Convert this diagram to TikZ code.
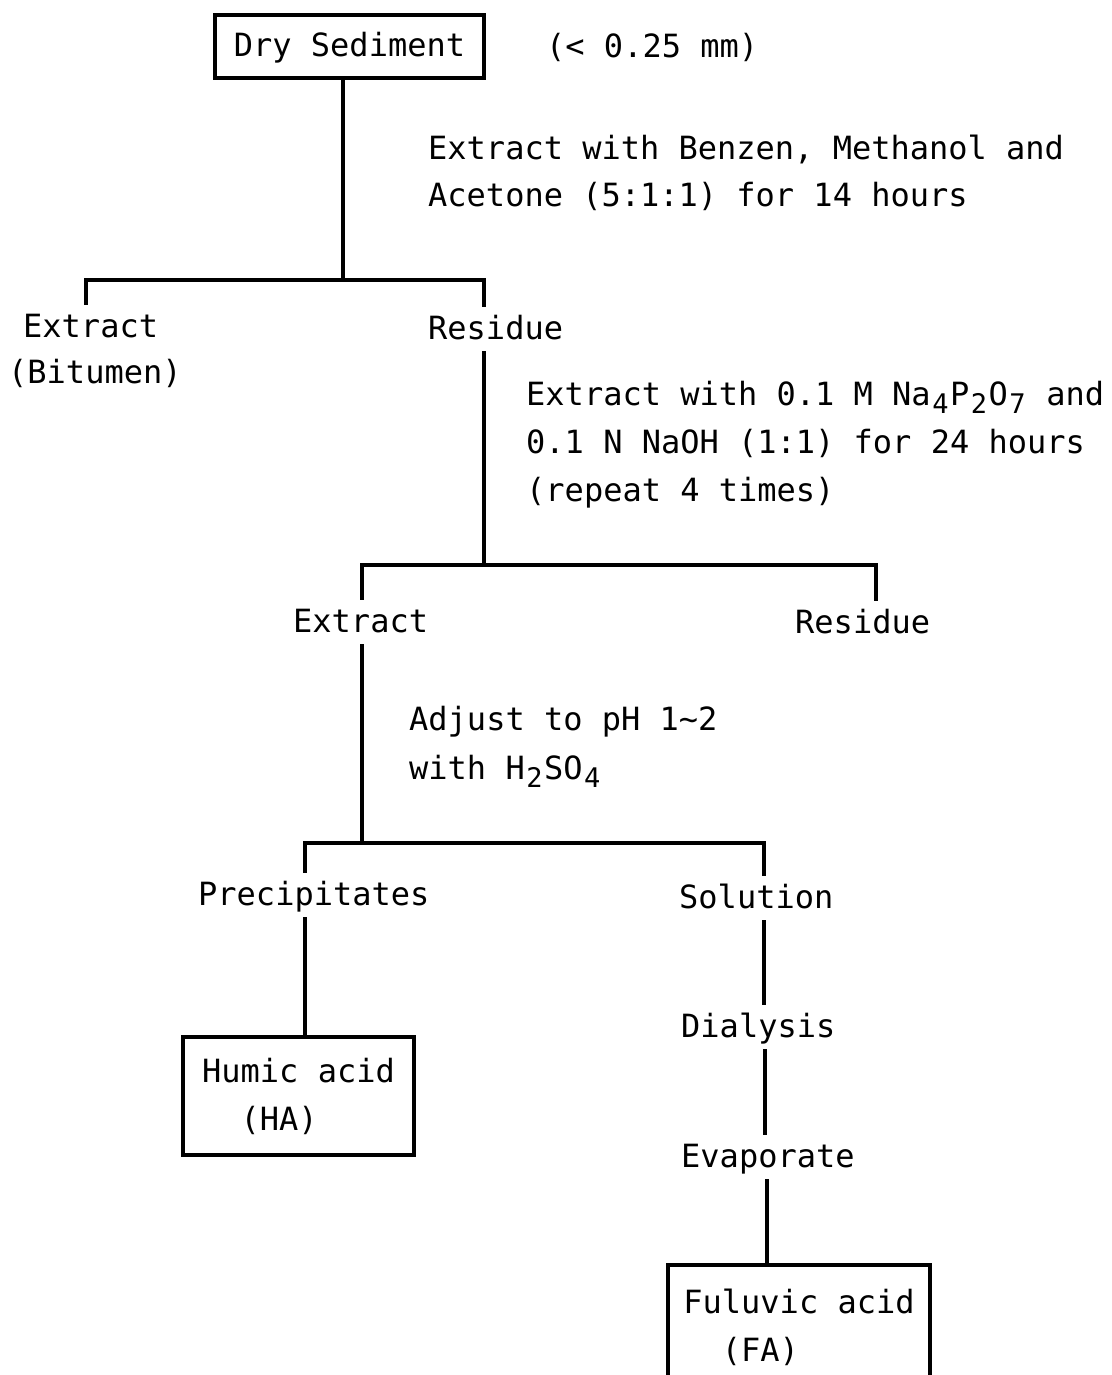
\documentclass[tikz,border=0pt]{standalone}
\usepackage{fontspec}
\setmainfont{DejaVu Sans Mono}
\newcommand{\subc}[1]{\makebox[0.602em][c]{\raisebox{-0.26em}{\fontsize{27}{27}\selectfont #1}}}
\begin{document}
\begin{tikzpicture}[x=1pt,y=-1pt,
  every node/.style={font=\fontsize{32}{48}\selectfont},
  lbl/.style={anchor=base west, inner xsep=0pt, inner ysep=8pt, text height=24pt, text depth=4pt},
  box/.style={draw, line width=3.2pt, inner sep=0pt},
  conn/.style={line width=3.2pt}]
\useasboundingbox (0,0) rectangle (1111,1375);
\clip (0,0) rectangle (1111,1375);
\fill[white] (0,0) rectangle (1111,1375);

\node[box, minimum width=269pt, minimum height=63pt, text height=24pt, text depth=4pt] (dry) at (349.5,46.5) {Dry Sediment};
\node[lbl] (size) at (546,58) {(< 0.25 mm)};
\node[lbl] (s1a) at (428,160) {Extract with Benzen, Methanol and};
\node[lbl] (s1b) at (428,207) {Acetone (5:1:1) for 14 hours};
\node[lbl] (ext1) at (23,337) {Extract};
\node[lbl] (bit) at (8,383) {(Bitumen)};
\node[lbl] (res1) at (428,339) {Residue};
\node[lbl] (s2a) at (526,405) {Extract with 0.1 M Na\subc{4}P\subc{2}O\subc{7} and};
\node[lbl] (s2b) at (526,453) {0.1 N NaOH (1:1) for 24 hours};
\node[lbl] (s2c) at (526,501) {(repeat 4 times)};
\node[lbl] (ext2) at (293,632) {Extract};
\node[lbl] (res2) at (795,633) {Residue};
\node[lbl] (s3a) at (409,730) {Adjust to pH 1\textasciitilde 2};
\node[lbl] (s3b) at (409,779) {with H\subc{2}SO\subc{4}};
\node[lbl] (pre) at (198,905) {Precipitates};
\node[lbl] (sol) at (679,908) {Solution};
\node[lbl] (dia) at (681,1037) {Dialysis};
\node[lbl] (eva) at (681,1167) {Evaporate};
\node[box, minimum width=231pt, minimum height=118pt, align=left] (ha) at (298.5,1096) {Humic acid\\\hphantom{00}(HA)};
\node[box, minimum width=262pt, minimum height=124pt, align=left] (fa) at (799,1327) {Fuluvic acid\\\hphantom{00}(FA)};

\coordinate (j1) at (343,280);
\coordinate (j2) at (484,565);
\coordinate (j3) at (362,843);
\draw[conn] (343,0 |- dry.south) -- (j1);
\draw[conn] (86,0 |- ext1.north) |- (j1) -| (484,0 |- res1.north);
\draw[conn] (484,0 |- res1.south) -- (j2);
\draw[conn] (362,0 |- ext2.north) |- (j2) -| (876,0 |- res2.north);
\draw[conn] (362,0 |- ext2.south) -- (j3);
\draw[conn] (305,0 |- pre.north) |- (j3) -| (764,0 |- sol.north);
\draw[conn] (305,0 |- pre.south) -- (305,0 |- ha.north);
\draw[conn] (764,0 |- sol.south) -- (764,0 |- dia.north);
\draw[conn] (765,0 |- dia.south) -- (765,0 |- eva.north);
\draw[conn] (767,0 |- eva.south) -- (767,0 |- fa.north);
\end{tikzpicture}
\end{document}
